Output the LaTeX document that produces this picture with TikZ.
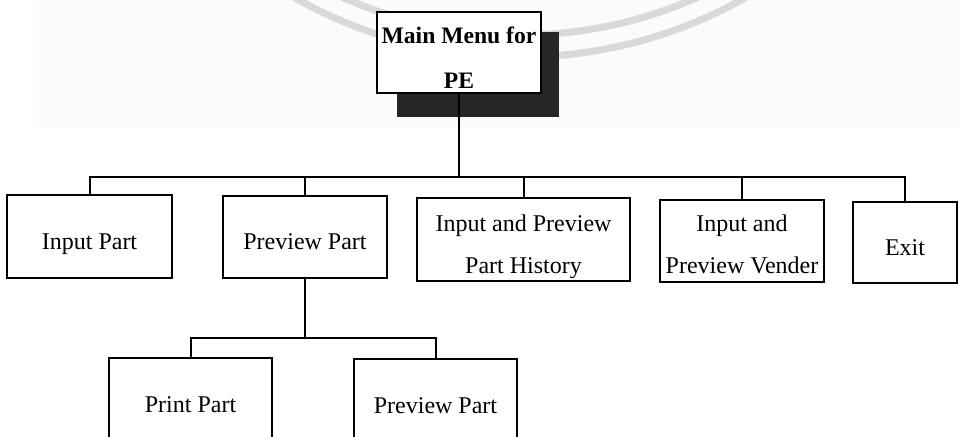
\documentclass[tikz,border=0pt]{standalone}
\usepackage{fontspec}
\setmainfont{Liberation Serif}
\begin{document}
\begin{tikzpicture}[x=0.5pt,y=-0.5pt,
  box/.style={draw=black, line width=1pt, fill=white, inner sep=0pt, outer sep=0pt,
    align=center, font=\fontsize{12}{21}\selectfont},
  onebox/.style={box, text height=12.5pt, text depth=0pt},
  shadowbox/.style={fill=black!85, draw=none, inner sep=0pt, outer sep=0pt},
  link/.style={draw=black, line width=1pt},
  wm/.style={draw=black!15, line width=3.5pt}]
\clip (0,0) rectangle (960,436);
% faint scan background and watermark
\fill[black!1.5] (33,0) rectangle (960,128);
\draw[wm] (520,-400) circle [radius=457];
\draw[wm] (520,-400) circle [radius=435];
% main menu with its shadow
\node[shadowbox, minimum width=81pt, minimum height=42.5pt] (shadow) at (478,74.5) {};
\node[box, font=\bfseries\fontsize{11.8}{22.5}\selectfont, minimum width=82pt, minimum height=40.5pt]
  (main) at (459,52.5) {\rule{0pt}{13pt}Main Menu for\\PE};
% first level
\node[onebox, minimum width=82.5pt, minimum height=41.5pt] (inp) at (89.5,236.5) {Input Part};
\node[onebox, minimum width=82pt, minimum height=41pt] (prev) at (305,237) {Preview Part};
\node[box, minimum width=106.5pt, minimum height=41.5pt] (hist) at (523.5,239.5)
  {\rule{0pt}{15.8pt}Input and Preview\\Part History};
\node[box, minimum width=82pt, minimum height=41pt] (vend) at (742,241)
  {\rule{0pt}{12pt}Input and\\Preview Vender};
\node[onebox, minimum width=52pt, minimum height=40.5pt] (exit) at (905,242.5) {Exit};
% second level
\node[onebox, minimum width=81.5pt, minimum height=41.5pt] (print) at (190.5,399.5) {Print Part};
\node[onebox, minimum width=81.5pt, minimum height=41.5pt] (prevb) at (435.5,400.5) {Preview Part};
% connectors
\coordinate (bar) at (0,177);
\coordinate (barb) at (0,338);
\foreach \n in {inp,prev,hist,vend,exit}
  \draw[link] (main.south) -- (main.south |- bar) -| (\n.north);
\foreach \n in {print,prevb}
  \draw[link] (prev.south) -- (prev.south |- barb) -| (\n.north);
\end{tikzpicture}
\end{document}
